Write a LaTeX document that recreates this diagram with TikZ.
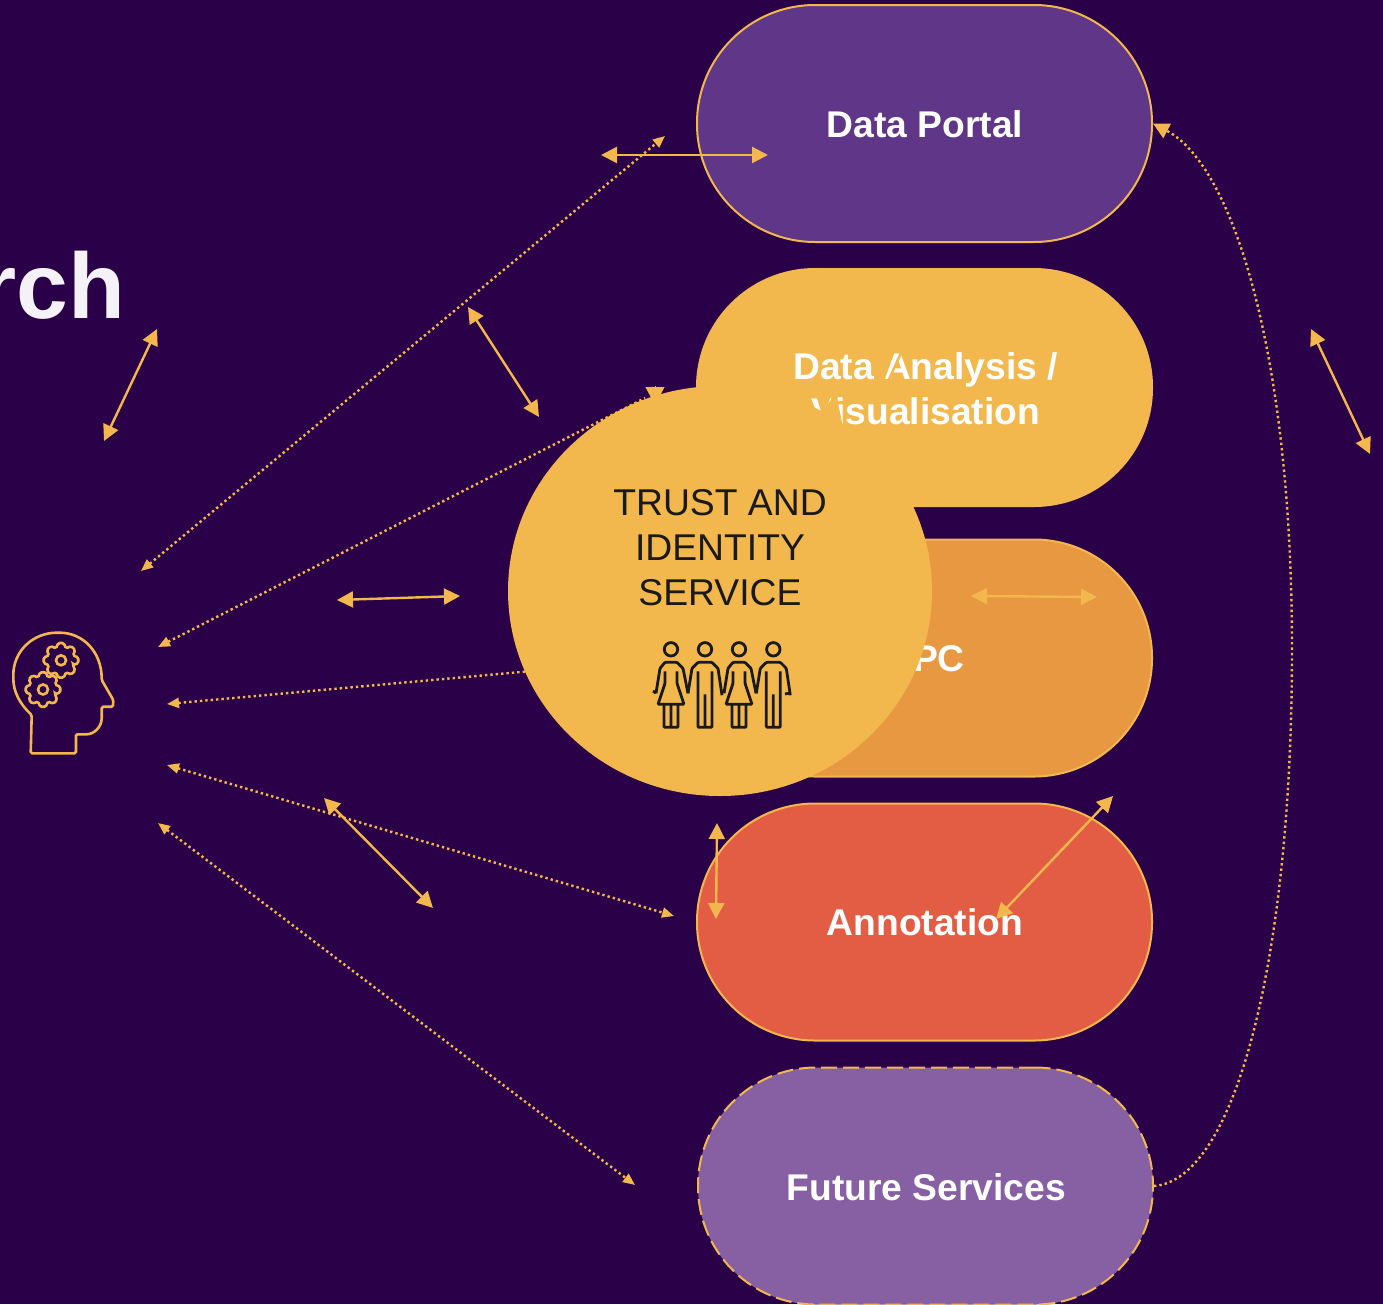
\documentclass[tikz,border=0pt]{standalone}
\usepackage{fontspec}
\setmainfont{Liberation Sans}
\usetikzlibrary{arrows.meta,shapes.geometric}

\definecolor{bgdark}{HTML}{2A0048}
\definecolor{amber}{HTML}{F2B84E}
\definecolor{portalpurple}{HTML}{5F3688}
\definecolor{hpcorange}{HTML}{E99842}
\definecolor{annotred}{HTML}{E35D45}
\definecolor{futurepurple}{HTML}{8660A2}
\definecolor{inkdark}{HTML}{1A1A1A}

\tikzset{
  pill/.style={draw=amber,line width=2pt,rounded corners=118pt,minimum width=455pt,minimum height=237pt,inner sep=0pt},
  pilltext/.style={text=white,align=center,font=\fontsize{37.2}{44.5}\selectfont\bfseries},
  solidarrow/.style={draw=amber,line width=2.4pt,{Triangle[length=16pt,width=16pt]}-{Triangle[length=16pt,width=16pt]}},
  dotline/.style={draw=amber,line width=2.4pt,dash pattern=on 2.4pt off 3pt},
  dotarrow/.style={dotline,{Triangle[length=12pt,width=10pt]}-{Triangle[length=12pt,width=10pt]}},
  iconline/.style={draw=amber,line width=2.6pt,rounded corners=1.5pt},
  peopleline/.style={draw=inkdark,line width=2.8pt,rounded corners=1pt},
  gear/.pic={
    \draw[iconline] (-22.5:13pt) \foreach \a in {0,45,...,315} {
      -- (\a-9:17.5pt) -- (\a+9:17.5pt) -- (\a+22.5:13pt)} -- cycle;
    \draw[iconline] (0,0) circle (5pt);
  },
  womanfig/.pic={
    \draw[peopleline] (0,0) circle (6.7);
    \draw[peopleline] (-15,44) -- (-11,19) -- (-6,13) -- (6,13) -- (12,19) -- (17,44);
    \draw[peopleline] (-6,22) -- (-6,34) -- (-13,55) -- (13,55) -- (6,34) -- (6,22);
    \draw[peopleline] (-7,55) -- (-7,78) -- (7,78) -- (7,55) (0,55) -- (0,78);
  },
  manfig/.pic={
    \draw[peopleline] (0,0) circle (6.7);
    \draw[peopleline] (-17,44) -- (-13,19) -- (-7,13) -- (7,13) -- (13,19) -- (17,46);
    \draw[peopleline] (-7,22) -- (-7,78) -- (7,78) -- (7,22) (0,45) -- (0,78);
  },
}

\begin{document}
\begin{tikzpicture}[x=1pt,y=-1pt]
  \clip (0,0) rectangle (1383,1304);
  \fill[bgdark] (0,0) rectangle (1383,1304);

  \node[anchor=base east,text=white!95!bgdark,font=\fontsize{93}{93}\selectfont\bfseries] (title) at (128.5,318) {rch};

  \node[pill,fill=portalpurple] (portal) at (924.5,123.5) {};
  \node[pill,fill=amber] (analysis) at (924.5,387.5) {};
  \node[pill,fill=hpcorange] (hpc) at (924.5,658) {};
  \node[pill,fill=annotred] (annot) at (924.5,922) {};
  \node[pill,fill=futurepurple,dash pattern=on 16pt off 6pt] (future) at (925.5,1186) {};

  \node[pilltext] (portallabel) at (925,124) {Data Portal};
  \node[pilltext] (analysislabel) at (925.5,388.5) {Data Analysis /\\Visualisation};
  \node[pilltext] (hpclabel) at (925.5,658.5) {HPC};
  \node[pilltext] (annotlabel) at (925,922.5) {Annotation};
  \node[pilltext] (futurelabel) at (926.5,1187) {Future Services};

  \coordinate (a1) at (157,329);   \coordinate (a2) at (104,441);
  \coordinate (b1) at (468,307);   \coordinate (b2) at (539,417);
  \coordinate (c1) at (337,600);   \coordinate (c2) at (460,596);
  \coordinate (d1) at (601,155);   \coordinate (d2) at (768,155);
  \coordinate (e1) at (971,596);   \coordinate (e2) at (1097,597);
  \coordinate (f1) at (324,798);   \coordinate (f2) at (433,908);
  \coordinate (g1) at (717,823);   \coordinate (g2) at (716,919);
  \coordinate (h1) at (1113,796);  \coordinate (h2) at (996,919);
  \coordinate (i1) at (1311,329);  \coordinate (i2) at (1370,454);

  \coordinate (j1) at (889,379);   \coordinate (j2) at (902,351);
  \coordinate (k1) at (829,428);   \coordinate (k2) at (836,392);
  \coordinate (m1) at (655,386);   \coordinate (m2) at (655,405);

  \coordinate (p1) at (141,571);   \coordinate (p2) at (665,136);
  \coordinate (q1) at (158,647);   \coordinate (q2) at (645,398);
  \coordinate (r1) at (167,704);   \coordinate (r2) at (720,654);
  \coordinate (s1) at (167,765);   \coordinate (s2) at (674,916);
  \coordinate (t1) at (158,823);   \coordinate (t2) at (635,1185);

  \foreach \from/\to in {p1/p2,r1/r2,s1/s2,t1/t2}
    \draw[dotarrow] (\from) -- (\to);
  \draw[dotline,{Triangle[length=12pt,width=10pt]}-] (q1) -- (q2);
  \foreach \from/\to in {a1/a2,b1/b2,c1/c2,d1/d2,e1/e2,f1/f2,g1/g2,h1/h2,i1/i2}
    \draw[solidarrow] (\from) -- (\to);

  \draw[draw=amber,line width=2.4pt] (j1) -- (j2);
  \draw[draw=amber,line width=1pt,-{Triangle[length=35pt,width=28pt]}] (k1) -- (k2);
  \draw[draw=amber,line width=1pt,-{Triangle[length=18pt,width=19pt]}] (m1) -- (m2);

  \draw[dotline,-{Triangle[length=16pt,width=16pt]}]
    (future.east) .. controls (1235,1180) and (1292,960) .. (1292,650)
    .. controls (1292,350) and (1232,165) .. (portal.east);

  \node[fill=amber,ellipse,minimum width=424pt,minimum height=410pt,inner sep=0pt] (trust) at (720,591) {};
  \node[text=inkdark,align=center,font=\fontsize{37.3}{45}\selectfont] (trustlabel) at (720,547.5) {TRUST AND\\IDENTITY\\SERVICE};

  \pic at (671,649.3) {womanfig};
  \pic at (705,649.3) {manfig};
  \pic at (739,649.3) {womanfig};
  \pic at (773.3,649.3) {manfig};
  \draw[peopleline] (656,693) -- (653,691);
  \draw[peopleline] (790,693) -- (785,694);

  % head icon
  \draw[iconline] (31.7,715) .. controls (20,704) and (13.3,692) .. (13.3,676.7)
    .. controls (13.3,651) and (33,632.7) .. (58.3,632.7)
    .. controls (83,632.7) and (101.7,652) .. (101.7,680)
    -- (113.3,700) -- (113,706.7) -- (101.7,706.7) -- (101.7,716.7)
    .. controls (101.7,727) and (94,734.3) .. (85,734.3)
    -- (76,734.3) -- (76,753.3) -- (30.7,753.3) -- cycle;
  \pic at (61,660.3) {gear};
  \pic at (43,689.5) {gear};
\end{tikzpicture}
\end{document}
